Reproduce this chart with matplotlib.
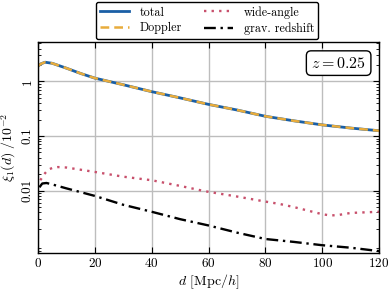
import numpy as np
import matplotlib
matplotlib.use("Agg")
import matplotlib.pyplot as plt
from matplotlib.ticker import FixedLocator, LogLocator, NullFormatter

plt.rcParams['font.family'] = 'serif'
plt.rcParams['font.serif'] = ['cmr10', 'DejaVu Serif']
plt.rcParams['mathtext.fontset'] = 'cm'
plt.rcParams['axes.formatter.use_mathtext'] = True
plt.rcParams['axes.unicode_minus'] = False

d_total = [0, 1, 2.5, 5, 10, 15, 20, 25, 30, 40, 50, 60, 70, 80, 90, 100, 110, 120]
total = [1.9, 2.1, 2.25, 2.15, 1.75, 1.4, 1.15, 1.0, 0.87, 0.65, 0.5, 0.38, 0.3, 0.23, 0.19, 0.16, 0.14, 0.125]
doppler = [1.9, 2.1, 2.25, 2.15, 1.75, 1.4, 1.15, 1.0, 0.87, 0.65, 0.5, 0.38, 0.3, 0.23, 0.19, 0.16, 0.14, 0.125]

d_wide = [0.8, 1.4, 2, 3.5, 5, 7, 10, 20, 30, 40, 50, 57, 60, 70, 80, 85, 90, 95, 100, 103, 106, 110, 115, 120]
wide = [0.0155, 0.0172, 0.0195, 0.024, 0.026, 0.027, 0.0265, 0.022, 0.018, 0.0155, 0.0122, 0.0102, 0.0095, 0.0078, 0.0063, 0.0057, 0.005, 0.0043, 0.0037, 0.0035, 0.0036, 0.0039, 0.004, 0.0041]

d_grav = [0.5, 1.5, 3, 5, 10, 20, 30, 40, 50, 60, 70, 80, 90, 100, 110, 120]
grav = [0.0115, 0.0135, 0.0138, 0.013, 0.011, 0.008, 0.0055, 0.0041, 0.003, 0.0023, 0.0017, 0.0013, 0.00115, 0.001, 0.0009, 0.00078]

xticks = [0, 20, 40, 60, 80, 100, 120]
yticks = [0.01, 0.1, 1]
ytick_labels = ['0.01', '0.1', '1']

fig = plt.figure(figsize=(3.9, 2.93), dpi=100)
ax = fig.add_axes([0.0974, 0.1365, 0.8746, 0.7205])

ax.plot(d_total, total, color='#1a5fa6', lw=2.0, label='total')
ax.plot(d_wide, wide, color='#c8506c', lw=1.7, ls=(0, (1, 2.2)), label='wide-angle')
ax.plot(d_total, doppler, color='#e8ac3c', lw=1.8, ls=(0, (3.5, 2)), label='Doppler')
ax.plot(d_grav, grav, color='black', lw=1.7, ls=(0, (5, 2, 1, 2)), label='grav. redshift')

ax.set_yscale('log')
ax.set_xlim(0, 120)
ax.set_ylim(7.2e-4, 5.3)
ax.xaxis.set_major_locator(FixedLocator(xticks))
ax.yaxis.set_major_locator(FixedLocator(yticks))
ax.set_yticklabels(ytick_labels, rotation=90, va='center')
ax.yaxis.set_minor_locator(LogLocator(base=10, subs=np.arange(2, 10)))
ax.yaxis.set_minor_formatter(NullFormatter())
ax.grid(True, which='major', color='#bdbdbd', lw=1.0)
ax.tick_params(which='both', direction='in', top=True, right=True, labelsize=9.5)
ax.tick_params(which='major', length=4, pad=3)
ax.tick_params(which='minor', length=2)
for s in ax.spines.values():
    s.set_linewidth(1.0)

ax.set_xlabel(r'$d$ [Mpc/$h$]', fontsize=10, labelpad=2)
ax.set_ylabel(r'$\xi_1(d)\ /10^{-2}$', fontsize=10, labelpad=3)

ax.text(0.962, 0.935, r'$z = 0.25$', transform=ax.transAxes, ha='right', va='top',
        fontsize=11.5, bbox=dict(boxstyle='round,pad=0.3', fc='white', ec='black', lw=1.0))

h, l = ax.get_legend_handles_labels()
order = [0, 2, 1, 3]
leg = fig.legend([h[i] for i in order], [l[i] for i in order], loc='upper center',
                 bbox_to_anchor=(0.531, 1.0), ncol=2, fontsize=8.7, frameon=True,
                 fancybox=True, edgecolor='black', framealpha=1,
                 handlelength=2.4, handletextpad=0.9, columnspacing=1.8,
                 borderpad=0.35, labelspacing=0.3, borderaxespad=0.15)
leg.get_frame().set_linewidth(1.0)

fig.savefig('out.png', dpi=100)
